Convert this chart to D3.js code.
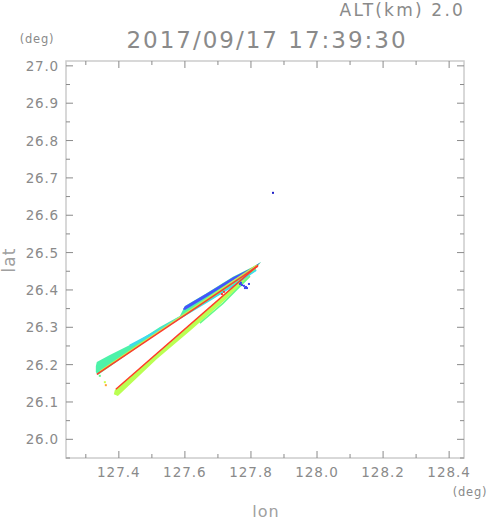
<!DOCTYPE html>
<html>
<head>
<meta charset="utf-8">
<script src="https://cdn.jsdelivr.net/npm/d3@7"></script>
<style>
  body { margin: 0; background: #fff; }
  text { font-family: "DejaVu Sans", sans-serif; fill: #8a8a8a; }
</style>
</head>
<body>
<script>
// tick labels
const lonTicks = [127.4, 127.6, 127.8, 128.0, 128.2, 128.4];
const latTicks = [26.0, 26.1, 26.2, 26.3, 26.4, 26.5, 26.6, 26.7, 26.8, 26.9, 27.0];
const title = "2017/09/17 17:39:30";
const altLabel = "ALT(km) 2.0";

// echo patches (lon, lat) and their value on the colour scale
const upperOutline = [[127.3303,26.196],[127.3333,26.207],[127.3727,26.226],[127.4636,26.266],[127.5242,26.301],[127.5848,26.330],[127.6000,26.357],[127.6667,26.392],[127.7455,26.435],[127.8061,26.462],[127.8303,26.475],[127.8212,26.464],[127.5848,26.325],[127.3364,26.172],[127.3303,26.180]];
const upperBlue = [[127.5939,26.348],[127.6000,26.356],[127.6667,26.391],[127.7455,26.434],[127.8061,26.461],[127.8303,26.475],[127.8121,26.460],[127.7455,26.426],[127.6667,26.382],[127.6000,26.346]];
const lowerOutline = [[127.3879,26.132],[127.8212,26.467],[127.8303,26.475],[127.7818,26.424],[127.7152,26.368],[127.6152,26.290],[127.5152,26.215],[127.3970,26.116],[127.3848,26.121]];
const patches = [
  {pts: upperOutline, v: 0.47},
  {pts: upperBlue, v: 0.14},
  {pts: lowerOutline, v: 0.72}
];

// thin streak lines along the edges
const streakLines = [
  {pts: [[127.4333,26.250],[127.5242,26.293],[127.6000,26.334],[127.6667,26.369],[127.7455,26.412],[127.8152,26.454]], v: 0.32, w: 2.5},
  {pts: [[127.5939,26.330],[127.8152,26.457]], v: 0.58, w: 1.5},
  {pts: [[127.3424,26.182],[127.8182,26.467]], v: 0.78, w: 1.2},
  {pts: [[127.3333,26.174],[127.8212,26.464]], v: 1.0, w: 1.5},
  {pts: [[127.6455,26.311],[127.7152,26.364],[127.7970,26.437]], v: 0.56, w: 1.5},
  {pts: [[127.3909,26.134],[127.8212,26.466]], v: 1.0, w: 1.5}
];

// isolated cells
const cellLon = [127.7667,127.7697,127.7727,127.7788,127.7848,127.7879,127.7818,127.7939,127.8667,127.3424,127.3576,127.3606,127.7121,127.7182];
const cellLat = [26.416,26.419,26.413,26.411,26.408,26.405,26.405,26.416,26.660,26.170,26.153,26.145,26.389,26.395];
const cellVal = [0.1,0.1,0.1,0.1,0.1,0.1,0.1,0.1,0.0,0.55,0.75,0.9,1.0,1.0];

const W = 491, H = 521;
const svg = d3.select("body").append("svg").attr("width", W).attr("height", H);

const x = d3.scaleLinear().domain([127.24, 128.445]).range([66, 464]);
const y = d3.scaleLinear().domain([25.95, 27.013]).range([458, 61]);
const color = d3.scaleLinear()
  .domain([0, 0.15, 0.3, 0.45, 0.6, 0.75, 0.9, 1])
  .range(["#2020c8", "#4858ff", "#3cd8f8", "#48f0b0", "#70ff78", "#ccff48", "#ffa030", "#ff3a2a"]);

const line = d3.line().x(d => x(d[0])).y(d => y(d[1]));

// echoes
let g = svg.append("g");
g.selectAll("path.patch").data(patches).enter().append("path")
  .attr("class", "patch")
  .attr("d", d => line(d.pts) + "Z")
  .attr("fill", d => color(d.v));
g.selectAll("path.streak").data(streakLines).enter().append("path")
  .attr("class", "streak")
  .attr("d", d => line(d.pts))
  .attr("fill", "none")
  .attr("stroke", d => color(d.v))
  .attr("stroke-width", d => d.w);
g.selectAll("rect.cell").data(cellVal).enter().append("rect")
  .attr("class", "cell")
  .attr("x", (d, i) => x(cellLon[i]) - 1)
  .attr("y", (d, i) => y(cellLat[i]) - 1)
  .attr("width", 2).attr("height", 2)
  .attr("fill", d => color(d));

// frame
svg.append("rect").attr("x", 66).attr("y", 61).attr("width", 398).attr("height", 397)
  .attr("fill", "none").attr("stroke", "#cccccc").attr("stroke-width", 1.5);

// ticks on all four sides, pointing in
const lonMinor = d3.range(127.3, 128.45, 0.2);
const latMinor = d3.range(25.95, 27.0, 0.1).map(v => +v.toFixed(2));
const tk = svg.append("g").attr("stroke", "#8a8a8a").attr("stroke-width", 1);
function vTicks(vals, len) {
  vals.forEach(v => {
    tk.append("line").attr("x1", x(v)).attr("x2", x(v)).attr("y1", 458).attr("y2", 458 - len);
    tk.append("line").attr("x1", x(v)).attr("x2", x(v)).attr("y1", 61).attr("y2", 61 + len);
  });
}
function hTicks(vals, len) {
  vals.forEach(v => {
    tk.append("line").attr("y1", y(v)).attr("y2", y(v)).attr("x1", 66).attr("x2", 66 + len);
    tk.append("line").attr("y1", y(v)).attr("y2", y(v)).attr("x1", 464).attr("x2", 464 - len);
  });
}
vTicks(lonTicks, 7); vTicks(lonMinor, 4);
hTicks(latTicks, 7); hTicks(latMinor, 4);

// tick labels
svg.selectAll("text.xl").data(lonTicks).enter().append("text")
  .attr("x", d => x(d)).attr("y", 477)
  .attr("text-anchor", "middle").attr("font-size", 13.5).attr("letter-spacing", 1)
  .text(d => d.toFixed(1));
svg.selectAll("text.yl").data(latTicks).enter().append("text")
  .attr("x", 59).attr("y", d => y(d) + 5)
  .attr("text-anchor", "end").attr("font-size", 13.5).attr("letter-spacing", 0.8)
  .text(d => d.toFixed(1));

// titles and axis names
svg.append("text").attr("x", 465).attr("y", 16).attr("text-anchor", "end")
  .attr("font-size", 17).attr("letter-spacing", 2.2).text(altLabel);
svg.append("text").attr("x", 267).attr("y", 48).attr("text-anchor", "middle")
  .attr("font-size", 23).attr("letter-spacing", 2).text(title);
svg.append("text").attr("x", 37).attr("y", 43).attr("text-anchor", "middle")
  .attr("font-size", 11.5).attr("letter-spacing", 0.8).text("(deg)");
svg.append("text").attr("x", 470).attr("y", 496).attr("text-anchor", "middle")
  .attr("font-size", 11.5).attr("letter-spacing", 0.8).text("(deg)");
svg.append("text").attr("x", 266).attr("y", 517).attr("text-anchor", "middle")
  .attr("font-size", 16).attr("letter-spacing", 1).style("fill", "#a0a0a0").text("lon");
svg.append("text").attr("transform", "translate(15,260) rotate(-90)").attr("text-anchor", "middle")
  .attr("font-size", 17).attr("letter-spacing", 1).style("fill", "#a0a0a0").text("lat");
</script>
</body>
</html>
